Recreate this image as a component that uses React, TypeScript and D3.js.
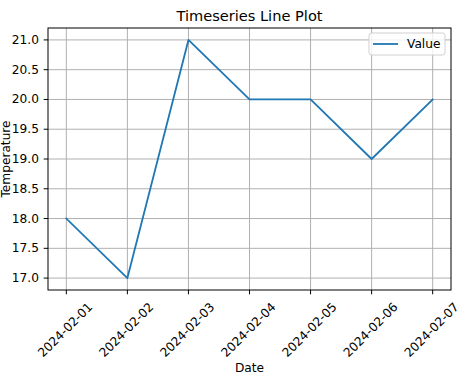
import { useRef, useEffect } from 'react';
import { select, scaleTime, scaleLinear, line } from 'd3';

const dates = ['2024-02-01', '2024-02-02', '2024-02-03', '2024-02-04', '2024-02-05', '2024-02-06', '2024-02-07'];
const values = [18, 17, 21, 20, 20, 19, 20];
const yTicks = [17.0, 17.5, 18.0, 18.5, 19.0, 19.5, 20.0, 20.5, 21.0];

const W = 466;
const H = 389;
const margin = { top: 28, right: 15, bottom: 99, left: 48 };
const font = '"DejaVu Sans", sans-serif';
const fs = 12.2; // 10pt at the figure's dpi

const App = () => {
  const svgRef = useRef<SVGSVGElement | null>(null);

  useEffect(() => {
    const svg = select(svgRef.current);
    svg.selectAll('*').remove();

    const parsed = dates.map((d) => new Date(d + 'T00:00:00'));
    const x0 = parsed[0];
    const x1 = parsed[parsed.length - 1];
    const span = x1.getTime() - x0.getTime();
    // matplotlib-style 5% margins
    const xScale = scaleTime()
      .domain([new Date(x0.getTime() - span * 0.05), new Date(x1.getTime() + span * 0.05)])
      .range([margin.left, W - margin.right]);

    const yMin = Math.min(...values);
    const yMax = Math.max(...values);
    const yPad = (yMax - yMin) * 0.05;
    const yScale = scaleLinear()
      .domain([yMin - yPad, yMax + yPad])
      .range([H - margin.bottom, margin.top]);

    const left = margin.left;
    const right = W - margin.right;
    const top = margin.top;
    const bottom = H - margin.bottom;

    // grid
    const grid = svg.append('g');
    grid
      .selectAll('.vg')
      .data(parsed)
      .join('line')
      .attr('x1', (d) => xScale(d))
      .attr('x2', (d) => xScale(d))
      .attr('y1', top)
      .attr('y2', bottom)
      .attr('stroke', '#b0b0b0')
      .attr('stroke-width', 1);
    grid
      .selectAll('.hg')
      .data(yTicks)
      .join('line')
      .attr('x1', left)
      .attr('x2', right)
      .attr('y1', (d) => yScale(d))
      .attr('y2', (d) => yScale(d))
      .attr('stroke', '#b0b0b0')
      .attr('stroke-width', 1);

    // line
    const path = line<number>()
      .x((d, i) => xScale(parsed[i]))
      .y((d) => yScale(d));
    svg
      .append('path')
      .datum(values)
      .attr('d', path)
      .attr('fill', 'none')
      .attr('stroke', '#1f77b4')
      .attr('stroke-width', 1.8)
      .attr('stroke-linejoin', 'round')
      .attr('stroke-linecap', 'square');

    // spines
    svg
      .append('rect')
      .attr('x', left)
      .attr('y', top)
      .attr('width', right - left)
      .attr('height', bottom - top)
      .attr('fill', 'none')
      .attr('stroke', '#000')
      .attr('stroke-width', 1);

    // x ticks
    const xt = svg.append('g');
    xt.selectAll('line')
      .data(parsed)
      .join('line')
      .attr('x1', (d) => xScale(d))
      .attr('x2', (d) => xScale(d))
      .attr('y1', bottom)
      .attr('y2', bottom + 4.3)
      .attr('stroke', '#000')
      .attr('stroke-width', 1);
    xt.selectAll('text')
      .data(parsed)
      .join('text')
      .attr('transform', (d) => `translate(${xScale(d) - 1},${bottom + 40}) rotate(-45)`)
      .attr('text-anchor', 'middle')
      .attr('dominant-baseline', 'central')
      .attr('font-family', font)
      .attr('font-size', fs)
      .attr('fill', '#000')
      .text((d, i) => dates[i]);

    // y ticks
    const yt = svg.append('g');
    yt.selectAll('line')
      .data(yTicks)
      .join('line')
      .attr('x1', left - 4.3)
      .attr('x2', left)
      .attr('y1', (d) => yScale(d))
      .attr('y2', (d) => yScale(d))
      .attr('stroke', '#000')
      .attr('stroke-width', 1);
    yt.selectAll('text')
      .data(yTicks)
      .join('text')
      .attr('x', left - 9)
      .attr('y', (d) => yScale(d))
      .attr('text-anchor', 'end')
      .attr('dominant-baseline', 'central')
      .attr('font-family', font)
      .attr('font-size', fs)
      .attr('fill', '#000')
      .text((d) => d.toFixed(1));

    // labels
    svg
      .append('text')
      .attr('x', (left + right) / 2)
      .attr('y', 15)
      .attr('text-anchor', 'middle')
      .attr('dominant-baseline', 'central')
      .attr('font-family', font)
      .attr('font-size', 14.6)
      .text('Timeseries Line Plot');
    svg
      .append('text')
      .attr('x', (left + right) / 2)
      .attr('y', 368)
      .attr('text-anchor', 'middle')
      .attr('dominant-baseline', 'central')
      .attr('font-family', font)
      .attr('font-size', fs)
      .text('Date');
    // kept just inside the left edge so the whole word shows
    svg
      .append('text')
      .attr('transform', `translate(9.5,${(top + bottom) / 2}) rotate(-90)`)
      .attr('text-anchor', 'middle')
      .attr('font-family', font)
      .attr('font-size', fs)
      .text('Temperature');

    // legend
    const lg = svg.append('g');
    lg.append('rect')
      .attr('x', 369)
      .attr('y', 33)
      .attr('width', 76)
      .attr('height', 22)
      .attr('rx', 2.5)
      .attr('fill', 'rgba(255,255,255,0.8)')
      .attr('stroke', '#d0d0d0')
      .attr('stroke-width', 1);
    lg.append('line')
      .attr('x1', 373)
      .attr('x2', 398)
      .attr('y1', 44)
      .attr('y2', 44)
      .attr('stroke', '#1f77b4')
      .attr('stroke-width', 1.8);
    lg.append('text')
      .attr('x', 407)
      .attr('y', 44)
      .attr('dominant-baseline', 'central')
      .attr('font-family', font)
      .attr('font-size', fs)
      .text('Value');
  }, []);

  return (
    <svg
      ref={svgRef}
      width={W}
      height={H}
      style={{ position: 'fixed', left: 0, top: 0, background: '#fff' }}
    />
  );
};

export default App;
